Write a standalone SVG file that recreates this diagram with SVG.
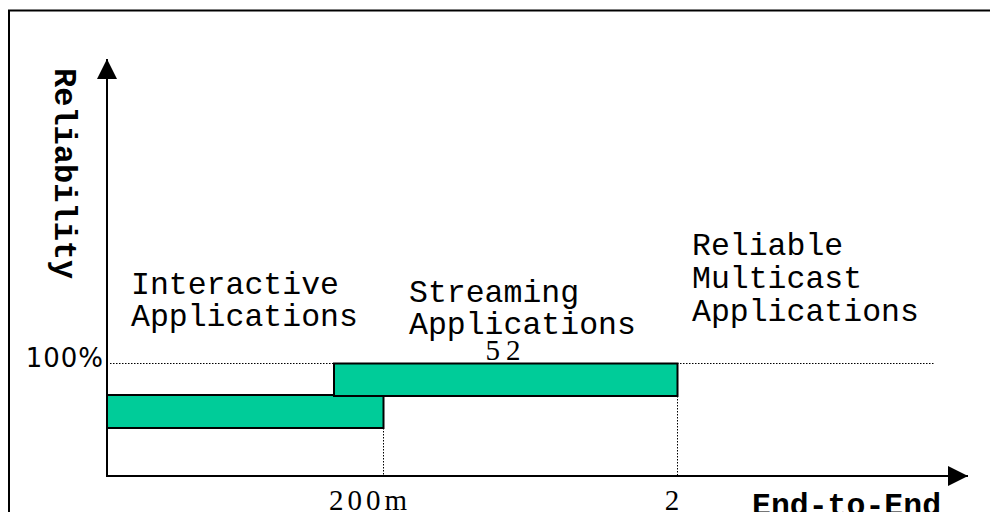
<svg xmlns="http://www.w3.org/2000/svg" width="990" height="512" viewBox="0 0 990 512">
<defs>
<style>
.mono{font-family:"Liberation Mono","Courier New",monospace;font-size:31.5px;fill:#000}
.bold{font-weight:bold}
.num{font-family:"DejaVu Sans","Liberation Sans",sans-serif;font-size:26px;fill:#000;letter-spacing:1px}
.numS{font-family:"Liberation Serif","Times New Roman",serif;font-size:29px;fill:#000;letter-spacing:4px}
.axis{stroke:#000;stroke-width:2;fill:none}
.dot{stroke:#000;stroke-width:1;stroke-dasharray:1.5 1.5;fill:none}
.bar{fill:#00CC99;stroke:#000;stroke-width:2}
</style>
<marker id="arr" viewBox="0 0 20 20" refX="20" refY="10" markerWidth="20" markerHeight="20" markerUnits="userSpaceOnUse" orient="auto">
<path d="M0,0 L20,10 L0,20 Z" fill="#000"/>
</marker>
</defs>
<rect width="990" height="512" fill="#fff"/>
<g id="frame">
<path d="M9,512 L9,10.5 L990,10.5" class="axis"/>
</g>
<g id="connectors">
<line x1="107" y1="476" x2="107" y2="59" class="axis" marker-end="url(#arr)"/>
<line x1="106" y1="476" x2="968" y2="476" class="axis" marker-end="url(#arr)"/>
<line x1="110" y1="363.5" x2="934" y2="363.5" class="dot"/>
<line x1="383.5" y1="428" x2="383.5" y2="475" class="dot"/>
<line x1="677.5" y1="396" x2="677.5" y2="475" class="dot"/>
</g>
<g id="interactive">
<rect x="107" y="395" width="276.5" height="33" class="bar"/>
<text class="mono" x="131" y="294">Interactive</text>
<text class="mono" x="131" y="326">Applications</text>
</g>
<g id="streaming">
<rect x="334" y="363.5" width="343.5" height="32.5" class="bar"/>
<text class="mono" x="409" y="302">Streaming</text>
<text class="mono" x="409" y="334">Applications</text>
<text class="numS" x="506" y="360" text-anchor="middle" style="letter-spacing:6px">52</text>
</g>
<g id="multicast">
<text class="mono" x="692" y="255">Reliable</text>
<text class="mono" x="692" y="288">Multicast</text>
<text class="mono" x="692" y="321">Applications</text>
</g>
<g id="labels">
<text class="mono bold" transform="translate(55,68) rotate(90)" style="font-size:32px">Reliability</text>
<text class="num" x="104" y="367" text-anchor="end">100%</text>
<text class="numS" x="370" y="510" text-anchor="middle">200m</text>
<text class="numS" x="674" y="510" text-anchor="middle">2</text>
<text class="mono bold" x="752" y="515">End-to-End</text>
</g>
</svg>
